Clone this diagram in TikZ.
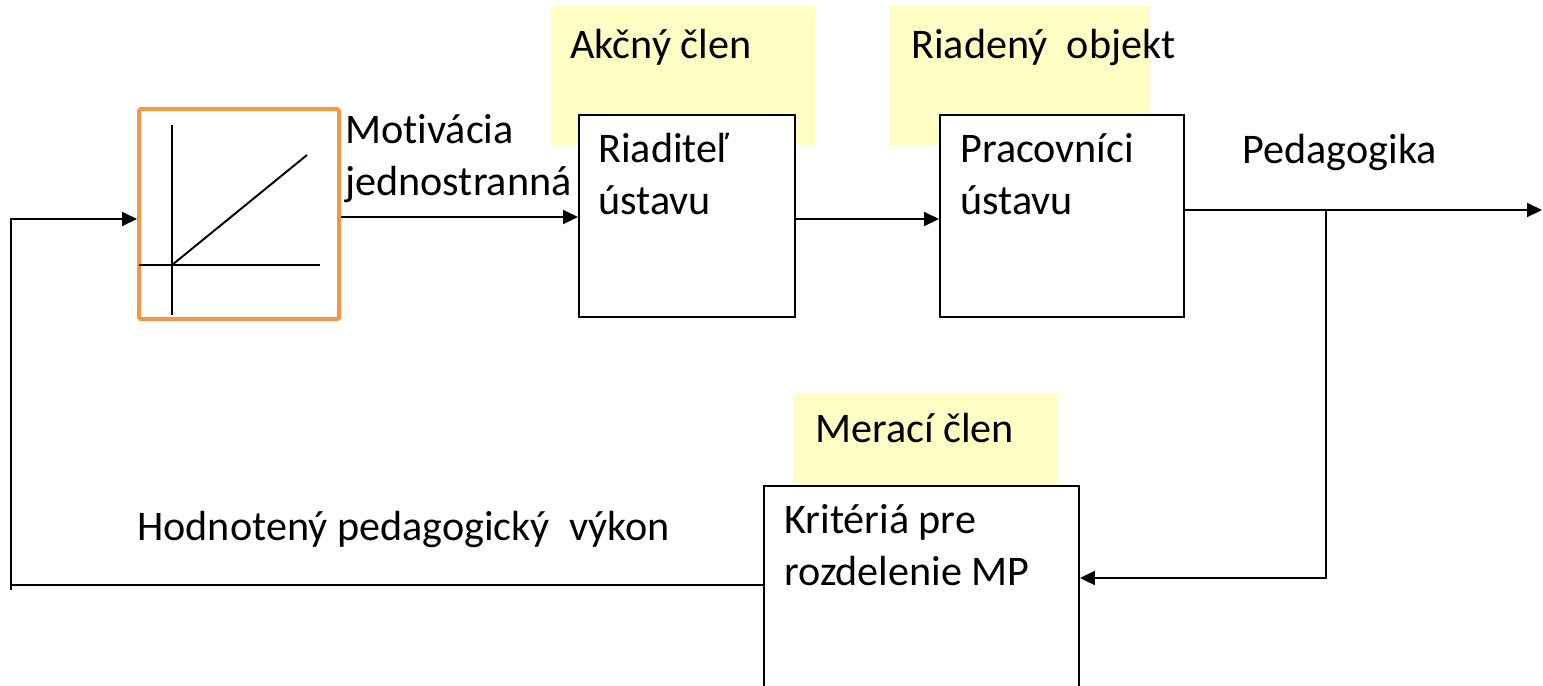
\documentclass[tikz,border=0pt]{standalone}
\usepackage{fontspec}
\setmainfont{Carlito}[Ligatures=NoCommon]
\usetikzlibrary{shapes,arrows.meta,positioning}
\definecolor{tagyellow}{RGB}{253,253,196}
\definecolor{rampor}{RGB}{247,150,70}
\newcommand{\blockfont}{\fontsize{24pt}{29.2pt}\selectfont\lineskiplimit=-40pt\relax}

\begin{document}
\begin{tikzpicture}[
    block/.style={draw, line width=1.1pt, rectangle, anchor=north west, inner sep=0pt},
    tag/.style={fill=tagyellow, rectangle, anchor=north west, inner sep=0pt},
    txt/.style={anchor=base west, inner sep=0pt, align=left, font=\blockfont},
    sig/.style={line width=1.1pt},
    arr/.style={sig, -{Triangle[length=0.3cm,width=0.28cm]}}
  ]
  \useasboundingbox (0,0) rectangle (30.86,-13.70);
  \clip (0,0) rectangle (30.86,-13.70);

  % Yellow tags
  \node[tag, minimum width=5.28cm, minimum height=2.78cm] (akcny) at (11.02,-0.12) {};
  \node[tag, minimum width=5.22cm, minimum height=2.78cm] (riadeny) at (17.78,-0.12) {};
  \node[tag, minimum width=5.30cm, minimum height=1.84cm] (meraci) at (15.86,-7.86) {};
  \node[txt] (akcnytxt) at (11.40,-1.16) {Akčný člen};
  \node[txt] (riadenytxt) at (18.22,-1.16) {Riadený\ \ objekt};
  \node[txt] (meracitxt) at (16.30,-8.84) {Merací člen};

  % Blocks
  \node[block, fill=white, minimum width=4.32cm, minimum height=4.04cm] (riaditel) at (11.56,-2.28) {};
  \node[block, fill=white, minimum width=4.88cm, minimum height=4.04cm] (pracovnici) at (18.78,-2.28) {};
  \node[block, fill=white, minimum width=6.30cm, minimum height=4.80cm] (kriteria) at (15.26,-9.70) {};
  \node[block, draw=rampor, line width=2.3pt, rounded corners=1pt, minimum width=4.0cm, minimum height=4.2cm] (ramp) at (2.74,-2.14) {};
  \node[txt] (riaditeltxt) at (11.96,-4.28) {Riaditeľ\\ústavu};
  \node[txt] (pracovnicitxt) at (19.20,-4.28) {Pracovníci\\ústavu};
  \node[txt] (kriteriatxt) at (15.68,-11.70) {Kritériá pre\\rozdelenie MP};

  % Ramp characteristic
  \draw[sig] (3.44,-2.50) -- (3.44,-6.30);
  \draw[sig] (2.78,-5.30) -- (6.40,-5.30);
  \draw[sig] (3.44,-5.30) -- (6.14,-3.10);

  % Labels
  \node[txt] (motivacia) at (6.90,-3.90) {Motivácia\\jednostranná};
  \node[txt] (pedagogika) at (24.84,-3.26) {Pedagogika};
  \node[txt] (hodnoteny) at (2.74,-10.80) {Hodnotený pedagogický\ \ výkon};

  % Signals
  \coordinate (out) at (30.84,-4.20);
  \coordinate (branch) at (26.52,-4.20);
  \coordinate (fb) at (26.52,-11.56);
  \coordinate (corner) at (0.22,-11.70);
  \coordinate (inp) at (0.22,-4.38);
  \draw[arr] (ramp.east |- 0,-4.34) -- (riaditel.west |- 0,-4.34);
  \draw[arr] (riaditel.east |- 0,-4.38) -- (pracovnici.west |- 0,-4.38);
  \draw[arr] (pracovnici.east |- out) -- (out);
  \draw[arr] (branch) -- (fb) -- (kriteria.east |- fb);
  \draw[sig] (kriteria.west |- corner) -- (corner);
  \draw[arr] (0.22,-11.80) -- (inp) -- (ramp.west |- inp);
\end{tikzpicture}
\end{document}
